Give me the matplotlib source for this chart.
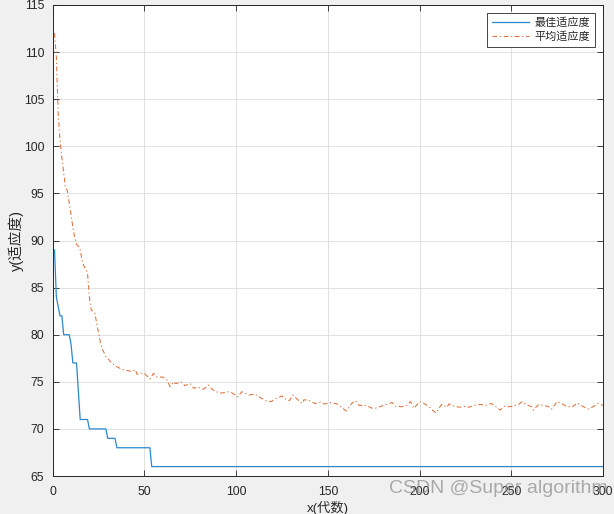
import matplotlib
matplotlib.use('Agg')
import matplotlib.pyplot as plt

plt.rcParams['font.family'] = ['Liberation Sans', 'Noto Sans CJK SC', 'DejaVu Sans']

# best fitness: change points of the step curve
best_gen = [1, 2, 4, 5, 6, 9, 10, 11, 13, 15, 19, 20, 29, 30, 34, 35, 53, 54, 300]
best_fit = [89, 84, 82, 82, 80, 80, 79, 77, 77, 71, 71, 70, 70, 69, 69, 68, 68, 66, 66]

# average fitness
avg_gen = [1, 2, 3, 4, 5, 6, 7, 8, 9, 10, 11, 12, 13, 14, 15, 16, 17, 18, 19, 20,
           21, 22, 23, 24, 25, 26, 27, 28, 29, 30, 32, 35, 38, 43, 45, 46, 48, 50, 53, 55,
           57, 60, 62, 64, 66, 67, 70, 72, 75, 77, 79, 82, 85, 87, 89, 92, 96, 98, 101, 103,
           107, 110, 113, 116, 119, 122, 125, 126, 129, 131, 133, 136, 137, 140, 143, 146, 148, 152, 155, 157,
           160, 163, 165, 167, 171, 174, 176, 179, 182, 185, 187, 190, 193, 195, 197, 200, 202, 205, 207, 209,
           212, 215, 216, 219, 222, 225, 227, 230, 233, 236, 239, 242, 244, 246, 248, 251, 254, 256, 258, 261,
           262, 265, 267, 270, 272, 275, 277, 280, 283, 286, 289, 292, 295, 297, 300]
avg_fit = [112.0, 109.5, 103.5, 100.6, 98.8, 97.2, 95.6, 95.3, 94.0, 92.8, 91.4, 90.3, 89.6, 89.4, 89.0, 87.9, 87.3, 87.0, 86.5, 84.0,
           82.6, 82.5, 82.3, 81.2, 80.2, 79.2, 78.5, 78.1, 77.7, 77.5, 77.0, 76.6, 76.3, 76.1, 76.3, 75.8, 75.9, 75.9, 75.3, 75.9,
           75.5, 75.5, 75.3, 74.5, 75.0, 74.8, 75.0, 74.6, 74.8, 74.3, 74.45, 74.2, 74.65, 74.2, 73.95, 73.8, 73.95, 73.8, 73.4, 73.95,
           73.6, 73.7, 73.35, 73.0, 72.9, 73.25, 73.5, 73.25, 73.0, 73.6, 73.2, 72.7, 73.1, 73.0, 72.7, 72.85, 72.65, 72.8, 72.65, 72.35,
           71.9, 72.7, 73.0, 72.5, 72.5, 72.2, 72.2, 72.4, 72.6, 72.8, 72.4, 72.35, 72.5, 72.9, 72.2, 72.9, 72.75, 72.4, 72.0, 71.7,
           72.6, 72.3, 72.65, 72.4, 72.3, 72.4, 72.3, 72.5, 72.6, 72.5, 72.7, 72.3, 72.0, 72.4, 72.35, 72.4, 72.6, 72.9, 72.6, 72.35,
           72.0, 72.6, 72.5, 72.4, 72.1, 72.9, 72.75, 72.4, 72.3, 72.75, 72.4, 72.1, 72.4, 72.7, 72.5]
assert len(avg_gen) == len(avg_fit)

labels = ['最佳适应度', '平均适应度']
xticks = [0, 50, 100, 150, 200, 250, 300]
yticks = [65, 70, 75, 80, 85, 90, 95, 100, 105, 110, 115]

fig = plt.figure(figsize=(6.14, 5.14), dpi=100, facecolor='#f0f0f0')
ax = fig.add_axes([0.0858, 0.0739, 0.8962, 0.9164])
ax.set_facecolor('white')

ax.plot(best_gen, best_fit, color='#2b88cf', lw=0.9, label=labels[0])
ax.plot(avg_gen, avg_fit, color='#e0703a', lw=0.75, dashes=(4.5, 2.5, 1.2, 2.5), label=labels[1])

ax.set_xlim(0, 300)
ax.set_ylim(65, 115)
ax.set_xticks(xticks)
ax.set_yticks(yticks)
ax.grid(True, color='#dcdcdc', lw=0.6)
ax.set_axisbelow(True)
ax.tick_params(direction='in', length=4, width=0.6, colors='#262626', labelsize=8.8,
               top=True, right=True)
ax.tick_params(axis='x', pad=7)
ax.tick_params(axis='y', pad=6)
for s in ax.spines.values():
    s.set_color('#262626')
    s.set_linewidth(0.7)

ax.set_xlabel('x(代数)', fontsize=9.5, color='#262626', labelpad=2)
ax.set_ylabel('y(适应度)', fontsize=10.5, color='#262626', labelpad=0)

leg = ax.legend(loc='upper right', fontsize=8, fancybox=False, framealpha=1,
                edgecolor='#262626', handlelength=3.3, borderaxespad=0.7,
                borderpad=0.45, labelspacing=0.3, handletextpad=0.5)
leg.get_frame().set_linewidth(0.6)
for t in leg.get_texts():
    t.set_color('#262626')

fig.text(0.634, 0.04, 'CSDN @Super algorithm', fontsize=14, color='#8c8c8c', alpha=0.7)

fig.savefig('out.png', dpi=100, facecolor=fig.get_facecolor())
